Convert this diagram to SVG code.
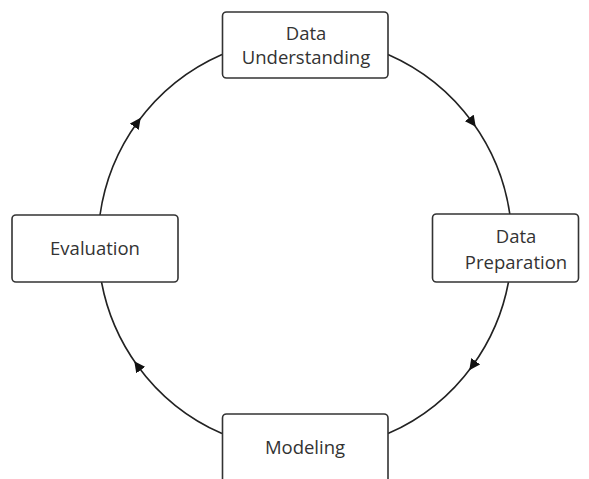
<svg xmlns="http://www.w3.org/2000/svg" width="589" height="479" viewBox="0 0 589 479">
<style>
.box{fill:#fff;stroke:#333;stroke-width:1.6}
.lbl{font-family:"Open Sans","Noto Sans",sans-serif;font-size:18.5px;fill:#333;text-anchor:middle}
.conn{fill:none;stroke:#222;stroke-width:1.6;marker-mid:url(#arr)}
</style>
<defs>
<marker id="arr" viewBox="0 0 10 10" refX="5" refY="5" markerWidth="11" markerHeight="11" markerUnits="userSpaceOnUse" orient="auto">
<path d="M0,0 L10,5 L0,10 z" fill="#111"/>
</marker>
</defs>
<rect width="589" height="479" fill="#fff"/>
<g id="connectors">
<path class="conn" d="M388,54.4 A207,207 0 0 1 472.5,122.3 A207,207 0 0 1 509.8,214"/>
<path class="conn" d="M508.5,282 A207,207 0 0 1 472.5,365.7 A207,207 0 0 1 388,433.6"/>
<path class="conn" d="M222,433.6 A207,207 0 0 1 137.5,365.7 A207,207 0 0 1 101.5,282"/>
<path class="conn" d="M100,215 A207,207 0 0 1 137.5,122.3 A207,207 0 0 1 222,54.4"/>
</g>
<g id="data-understanding">
<rect class="box" x="222.5" y="12" width="165.5" height="66" rx="4"/>
<text class="lbl" x="306" y="40">Data</text>
<text class="lbl" x="306" y="64">Understanding</text>
</g>
<g id="data-preparation">
<rect class="box" x="432.5" y="214" width="146" height="68" rx="4"/>
<text class="lbl" x="516" y="243">Data</text>
<text class="lbl" x="516" y="269">Preparation</text>
</g>
<g id="modeling">
<rect class="box" x="222.5" y="414" width="165.5" height="72" rx="4"/>
<text class="lbl" x="305" y="454">Modeling</text>
</g>
<g id="evaluation">
<rect class="box" x="12" y="215" width="166" height="67" rx="4"/>
<text class="lbl" x="95" y="255">Evaluation</text>
</g>
</svg>
